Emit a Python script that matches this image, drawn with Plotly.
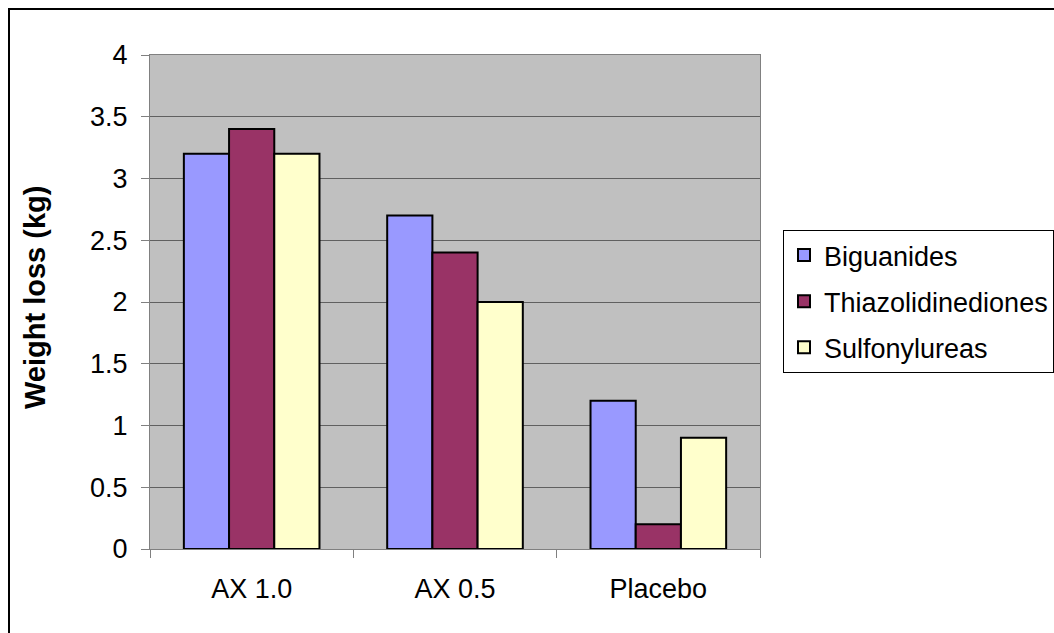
import plotly.graph_objects as go

categories = ["AX 1.0", "AX 0.5", "Placebo"]
biguanides = [3.2, 2.7, 1.2]
thiazolidinediones = [3.4, 2.4, 0.2]
sulfonylureas = [3.2, 2.0, 0.9]

series = [
    ("Biguanides", biguanides, "#9999FF"),
    ("Thiazolidinediones", thiazolidinediones, "#993366"),
    ("Sulfonylureas", sulfonylureas, "#FFFFCC"),
]

FONT = "Liberation Sans, Arial, sans-serif"
FS = 27

fig = go.Figure()
for name, vals, color in series:
    fig.add_trace(go.Bar(
        x=categories, y=vals, name=name, legendgroup=name,
        marker=dict(color=color, line=dict(color="black", width=2)),
    ))

W, H = 1054, 633
L, R, T, B = 150, 294, 55, 84
pw, ph = W - L - R, H - T - B

fig.update_layout(
    width=W, height=H,
    margin=dict(l=L, r=R, t=T, b=B, autoexpand=False),
    paper_bgcolor="white",
    plot_bgcolor="#C0C0C0",
    barmode="group",
    bargap=0.333,
    bargroupgap=0,
    font=dict(family=FONT, size=FS, color="black"),
    showlegend=True,
    legend=dict(
        x=(783 - L) / pw, y=(H - B - 230) / ph,
        xanchor="left", yanchor="top",
        bgcolor="white", bordercolor="black", borderwidth=1,
        font=dict(family=FONT, size=FS, color="black"),
        tracegroupgap=8,
        itemwidth=30,
        itemclick=False,
    ),
    xaxis=dict(
        type="category",
        tickson="boundaries",
        ticks="outside", ticklen=8, tickcolor="#808080", tickwidth=1,
        showline=True, linecolor="#808080", linewidth=1, mirror=True,
        showgrid=False,
        ticklabelstandoff=16,
        tickfont=dict(family=FONT, size=FS, color="black"),
    ),
    yaxis=dict(
        range=[0, 4], dtick=0.5,
        ticks="outside", ticklen=8, tickcolor="#808080", tickwidth=1,
        showline=True, linecolor="#808080", linewidth=1, mirror=True,
        showgrid=True, gridcolor="#606060", gridwidth=1,
        zeroline=False,
        ticklabelstandoff=8,
        tickfont=dict(family=FONT, size=FS, color="black"),
        tickformat="~g",
    ),
    annotations=[dict(
        text="<b>Weight loss (kg)</b>", textangle=-90,
        xref="paper", yref="paper",
        x=(35 - L) / pw, y=(H - B - 298) / ph, xanchor="center", yanchor="middle",
        showarrow=False, font=dict(family=FONT, size=29, color="black"),
    )],
    shapes=[dict(
        type="rect", xref="paper", yref="paper",
        x0=(9 - L) / pw, x1=(W + 20 - L) / pw,
        y0=-(B + 20) / ph, y1=(H - B - 9) / ph,
        line=dict(color="black", width=2), layer="below",
    )],
)

fig.write_html("out.html")
